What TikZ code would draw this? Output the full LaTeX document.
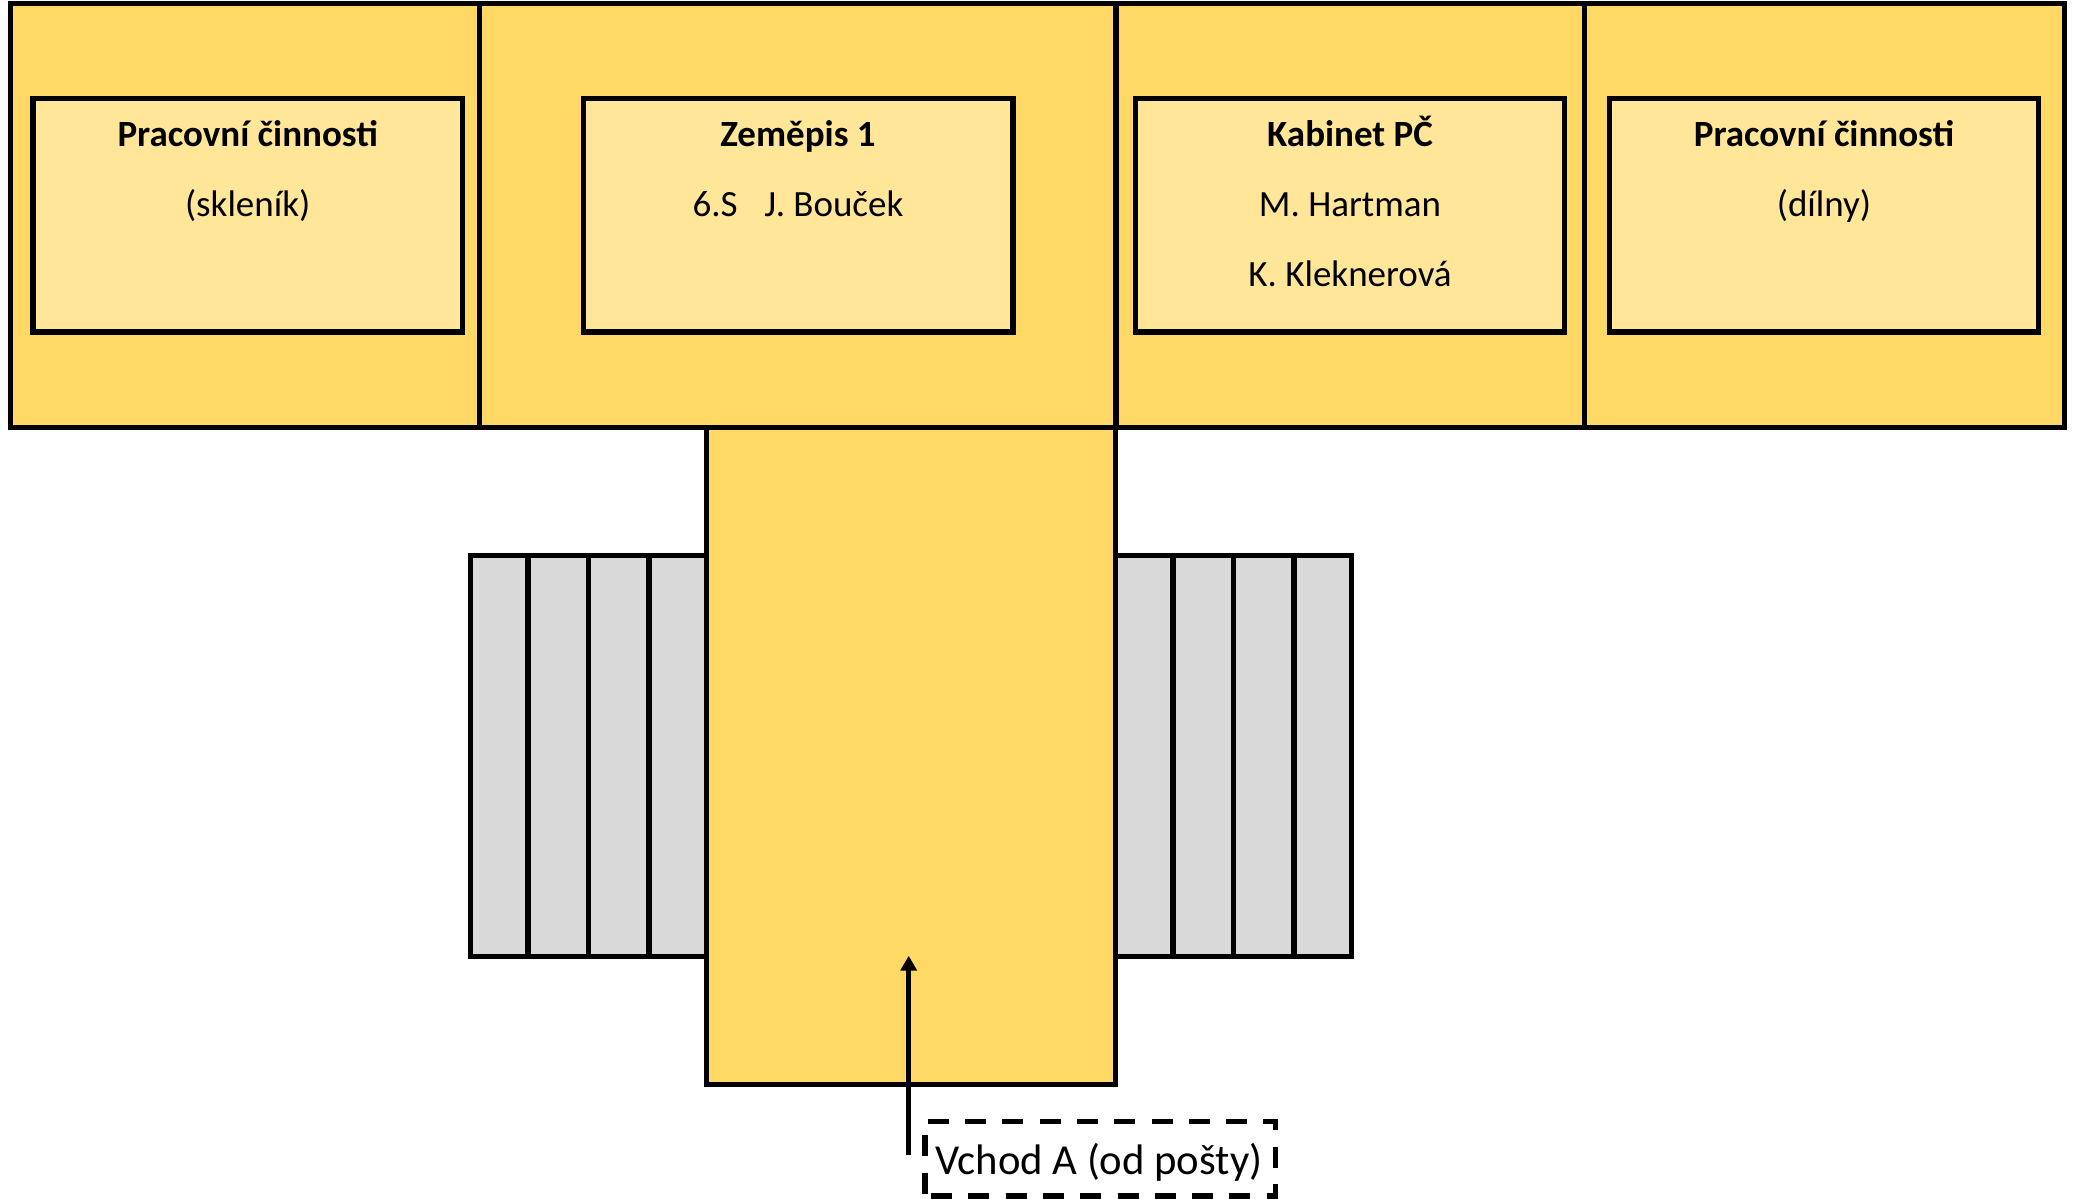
\documentclass[tikz,border=0pt]{standalone}
\usepackage{fontspec}
\setmainfont{Carlito}
\usetikzlibrary{arrows.meta}
\definecolor{roomfill}{HTML}{FFD966}
\definecolor{boxfill}{HTML}{FFE699}
\definecolor{stairfill}{HTML}{D9D9D9}
\tikzset{
  x=1pt,y=-1pt,
  block/.style={draw=black,line width=5.4pt,anchor=north west,inner sep=0pt,outer sep=0pt,line join=miter},
  room/.style={block,fill=roomfill,minimum height=423.8pt},
  inbox/.style={block,fill=boxfill,minimum width=429.4pt,minimum height=233.3pt},
  stair/.style={block,fill=stairfill,minimum height=401.4pt},
  corridor/.style={block,fill=roomfill},
  head/.style={anchor=base,font=\fontsize{37}{37}\selectfont\bfseries,inner sep=0pt},
  txt/.style={anchor=base,font=\fontsize{37}{37}\selectfont,inner sep=0pt},
  dashbox/.style={draw=black,line width=5.4pt,dash pattern=on 21pt off 16.3pt,dash phase=31.3pt,anchor=north west,inner sep=0pt,outer sep=0pt,minimum width=350.7pt,minimum height=74.3pt},
  entry/.style={anchor=base,font=\fontsize{42.7}{42.7}\selectfont,inner sep=0pt},
  arrowline/.style={draw=black,line width=5.4pt,-{Triangle[width=16pt,length=15pt]}}
}
\begin{document}
\begin{tikzpicture}
\useasboundingbox (0,0) rectangle (2078,1199);
% rooms
\node[room,minimum width=468.6pt] (r1) at (10.7,3.5) {};
\node[room,minimum width=636.7pt] (r2) at (479.3,3.5) {};
\node[room,minimum width=468.7pt] (r3) at (1116,3.5) {};
\node[room,minimum width=480pt] (r4) at (1584.7,3.5) {};
% stairs
\node[stair,minimum width=57.3pt] (sl1) at (470.7,555.3) {};
\node[stair,minimum width=60.7pt] (sl2) at (528,555.3) {};
\node[stair,minimum width=60.3pt] (sl3) at (588.7,555.3) {};
\node[stair,minimum width=57.3pt] (sl4) at (649,555.3) {};
\node[stair,minimum width=57.3pt] (sr1) at (1115.7,555.3) {};
\node[stair,minimum width=60.7pt] (sr2) at (1173,555.3) {};
\node[stair,minimum width=60.3pt] (sr3) at (1233.7,555.3) {};
\node[stair,minimum width=57.3pt] (sr4) at (1294,555.3) {};
% corridor
\node[corridor,minimum width=409.4pt,minimum height=657.4pt] (c) at (706.3,427.3) {};
% inner boxes
\node[inbox] (b1) at (33,98.7) {};
\node[inbox] (b2) at (583.5,98.7) {};
\node[inbox] (b3) at (1135.3,98.7) {};
\node[inbox] (b4) at (1609.3,98.7) {};
% texts
\node[head] (t11) at (247.7,146) {Pracovní činnosti};
\node[txt]  (t12) at (247.7,216) {(skleník)};
\node[head] (t21) at (798,146) {Zeměpis 1};
\node[txt]  (t22) at (798,216) {6.S\hspace{0.72em}J. Bouček};
\node[head] (t31) at (1350,146) {Kabinet PČ};
\node[txt]  (t32) at (1350,216) {M. Hartman};
\node[txt]  (t33) at (1350,286) {K. Kleknerová};
\node[head] (t41) at (1824,146) {Pracovní činnosti};
\node[txt]  (t42) at (1824,216) {(dílny)};
% entrance
\node[dashbox] (d) at (925,1121.7) {};
\node[entry] (e) at (1099,1174) {Vchod A (od pošty)};
\coordinate (from) at (908.7,1155);
\coordinate (to) at (908.7,955.7);
\draw[arrowline] (from) -- (to);
\end{tikzpicture}
\end{document}
